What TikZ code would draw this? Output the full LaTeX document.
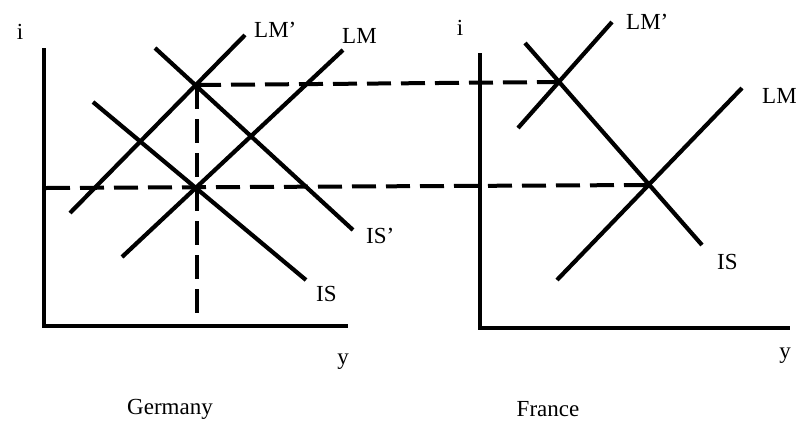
\documentclass[tikz,border=0pt]{standalone}
\usepackage{fontspec}
\setmainfont{Liberation Serif}
\begin{document}
\begin{tikzpicture}[x=1pt,y=-1pt,
  curve/.style={line width=4.2pt},
  axis/.style={line width=4.2pt,line cap=rect},
  guide/.style={line width=4pt,dash pattern=on 24pt off 10pt},
  lbl/.style={inner sep=0pt,font=\fontsize{23}{26}\selectfont}]
\useasboundingbox (0,0) rectangle (796,421);
% Germany axes
\coordinate (gO) at (44,326);
\coordinate (gT) at (44,50);
\coordinate (gR) at (346,326);
\draw[axis] (gT) -- (gO) -- (gR);
% Germany curves
\coordinate (gLMpa) at (70,213);  \coordinate (gLMpb) at (245,35);
\coordinate (gLMa) at (122,257);  \coordinate (gLMb) at (343,50);
\coordinate (gISpa) at (155,48);  \coordinate (gISpb) at (353,230);
\coordinate (gISa) at (93,102);   \coordinate (gISb) at (306,280);
\draw[curve] (gLMpa) -- (gLMpb);
\draw[curve] (gLMa) -- (gLMb);
\draw[curve] (gISpa) -- (gISpb);
\draw[curve] (gISa) -- (gISb);
\coordinate (gE1) at (197,85);
\coordinate (gE0) at (197,188);
\coordinate (gV) at (197,313);
\coordinate (gL) at (46,188);
% France axes
\coordinate (fO) at (480,328);
\coordinate (fT) at (480,55);
\coordinate (fR) at (788,328);
\draw[axis] (fT) -- (fO) -- (fR);
% France curves
\coordinate (fLMpa) at (518,128); \coordinate (fLMpb) at (612,22);
\coordinate (fISa) at (525,43);   \coordinate (fISb) at (702,245);
\coordinate (fLMa) at (557,280);  \coordinate (fLMb) at (742,88);
\draw[curve] (fLMpa) -- (fLMpb);
\draw[curve] (fISa) -- (fISb);
\draw[curve] (fLMa) -- (fLMb);
\coordinate (fE1) at (559,82);
\coordinate (fE0) at (646,185);
% dashed guides
\draw[guide] (gE1) -- (gV);
\draw[guide] (gE1) -- (fE1);
\draw[guide] (gL) -- (fE0);
% labels
\node[lbl] (gi) at (20,32) {i};
\node[lbl,anchor=west] (gLMpl) at (254,30) {LM’};
\node[lbl,anchor=west] (gLMl) at (342,36) {LM};
\node[lbl,anchor=west] (gISpl) at (366,236) {IS’};
\node[lbl,anchor=west] (gISl) at (316,294) {IS};
\node[lbl] (gy) at (343,362) {y};
\node[lbl] (gname) at (170,409) {Germany};
\node[lbl] (fi) at (460,28) {i};
\node[lbl,anchor=west] (fLMpl) at (626,22) {LM’};
\node[lbl,anchor=west] (fLMl) at (762,96) {LM};
\node[lbl,anchor=west] (fISl) at (717,262) {IS};
\node[lbl] (fy) at (785,356) {y};
\node[lbl] (fname) at (548,409) {France};
\end{tikzpicture}
\end{document}
